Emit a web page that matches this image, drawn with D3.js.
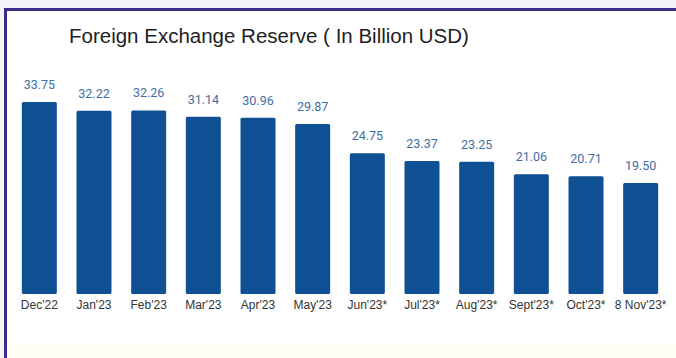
<!DOCTYPE html>
<html>
<head>
<meta charset="utf-8">
<script src="https://cdn.jsdelivr.net/npm/d3@7"></script>
<style>
  html, body { margin: 0; padding: 0; background: #ffffff; }
  svg { display: block; }
</style>
</head>
<body>
<svg id="chart" width="676" height="358"></svg>
<script>
// Monthly foreign exchange reserve, billion USD (* = provisional)
const months = ["Dec'22", "Jan'23", "Feb'23", "Mar'23", "Apr'23", "May'23",
                "Jun'23*", "Jul'23*", "Aug'23*", "Sept'23*", "Oct'23*", "8 Nov'23*"];
const reserves = [33.75, 32.22, 32.26, 31.14, 30.96, 29.87,
                  24.75, 23.37, 23.25, 21.06, 20.71, 19.50];
const chartTitle = "Foreign Exchange Reserve ( In Billion USD)";

const data = months.map((m, i) => ({ month: m, value: reserves[i] }));

const W = 676, H = 358;
const svg = d3.select("#chart");

// page backdrop with a framed panel
svg.append("rect").attr("x", 0).attr("y", 0).attr("width", W).attr("height", H).attr("fill", "#f4f4f8");
svg.append("rect").attr("x", 5).attr("y", 9).attr("width", W - 5).attr("height", H - 9).attr("fill", "#ffffff");
svg.append("rect").attr("x", 7).attr("y", 344).attr("width", W - 7).attr("height", H - 344).attr("fill", "#fffdf6");
svg.append("line").attr("x1", 5.5).attr("y1", 9).attr("x2", 5.5).attr("y2", H)
  .attr("stroke", "#3b2d86").attr("stroke-width", 3);
svg.append("line").attr("x1", 4).attr("y1", 9.5).attr("x2", W).attr("y2", 9.5)
  .attr("stroke", "#3b2d86").attr("stroke-width", 3);

svg.append("text")
  .attr("x", 69).attr("y", 43)
  .attr("font-family", "Liberation Sans, Arial, sans-serif")
  .attr("font-size", 20.5)
  .attr("fill", "#1e1e1e")
  .text(chartTitle);

const x = d3.scaleBand()
  .domain(months)
  .range([12, 668])
  .paddingInner(0.36)
  .paddingOuter(0.18);

const y = d3.scaleLinear()
  .domain([0, 33.75])
  .range([294, 102]);

svg.append("g").selectAll("rect")
  .data(data)
  .join("rect")
  .attr("x", d => x(d.month))
  .attr("y", d => y(d.value))
  .attr("width", x.bandwidth())
  .attr("height", d => y(0) - y(d.value))
  .attr("rx", 1.5)
  .attr("fill", "#0f4f93");

svg.append("g").selectAll("text")
  .data(data)
  .join("text")
  .attr("x", d => x(d.month) + x.bandwidth() / 2)
  .attr("y", d => y(d.value) - 13)
  .attr("text-anchor", "middle")
  .attr("font-family", "Roboto, sans-serif")
  .attr("font-size", 12.5)
  .attr("fill", "#3f6ea6")
  .text(d => d.value.toFixed(2));

const xAxis = d3.axisBottom(x).tickSize(0).tickPadding(6);
const gx = svg.append("g")
  .attr("transform", `translate(0,${y(0)})`)
  .call(xAxis);
gx.select(".domain").remove();
gx.selectAll("text")
  .attr("font-family", "Liberation Sans, Arial, sans-serif")
  .attr("font-size", 12)
  .attr("fill", "#333333");
</script>
</body>
</html>
